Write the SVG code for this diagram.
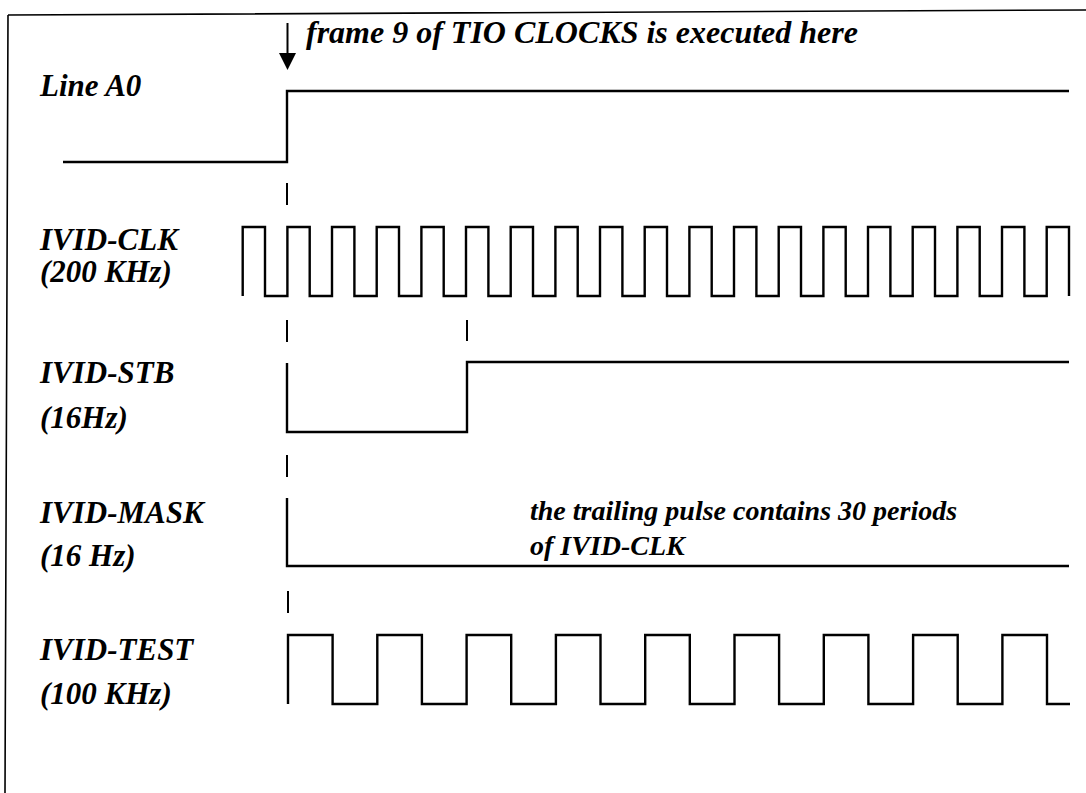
<svg xmlns="http://www.w3.org/2000/svg" width="1086" height="793" viewBox="0 0 1086 793">
<style>
.lbl{font-family:"Liberation Serif","Times New Roman",serif;font-weight:bold;font-style:italic;font-size:31px;fill:#000}
.title{font-family:"Liberation Serif","Times New Roman",serif;font-weight:bold;font-style:italic;font-size:32px;fill:#000}
.note{font-family:"Liberation Serif","Times New Roman",serif;font-weight:bold;font-style:italic;font-size:28px;fill:#000}
.wave{fill:none;stroke:#000;stroke-width:2.4;stroke-linejoin:miter}
.tick{stroke:#000;stroke-width:2}
.frame{fill:none;stroke:#000;stroke-width:1.6}
</style>
<rect width="1086" height="793" fill="#fff"/>
<g id="border">
<path class="frame" d="M8,15 L1086,10 M8,15 L5,793"/>
</g>
<g id="title">
<text class="title" x="306" y="43">frame 9 of TIO CLOCKS is executed here</text>
</g>
<g id="line-a0">
<text class="lbl" x="40" y="96">Line A0</text>
<path class="wave" d="M63,162 H287 V91 H1069"/>
</g>
<g id="ivid-clk">
<text class="lbl" x="40" y="250">IVID-CLK</text>
<text class="lbl" x="40" y="282">(200 KHz)</text>
<path class="wave" d="M242.7,296 V227 H265 V296 H287.4 V227 H309.7 V296 H332 V227 H354.4 V296 H376.7 V227 H399 V296 H421.4 V227 H443.7 V296 H466 V227 H488.4 V296 H510.7 V227 H533 V296 H555.4 V227 H577.7 V296 H600 V227 H622.4 V296 H644.7 V227 H667 V296 H689.4 V227 H711.7 V296 H734 V227 H756.4 V296 H778.7 V227 H801 V296 H823.4 V227 H845.7 V296 H868 V227 H890.4 V296 H912.7 V227 H935 V296 H957.4 V227 H979.7 V296 H1002 V227 H1024.4 V296 H1046.7 V227 H1069 V296"/>
</g>
<g id="ivid-stb">
<text class="lbl" x="40" y="383">IVID-STB</text>
<text class="lbl" x="40" y="428">(16Hz)</text>
<path class="wave" d="M287,363 V432 H467 V362 H1069"/>
</g>
<g id="ivid-mask">
<text class="lbl" x="40" y="523">IVID-MASK</text>
<text class="lbl" x="40" y="566">(16 Hz)</text>
<path class="wave" d="M287,498 V566 H1069"/>
<text class="note" x="530" y="520">the trailing pulse contains 30 periods</text>
<text class="note" x="530" y="555">of IVID-CLK</text>
</g>
<g id="ivid-test">
<text class="lbl" x="40" y="660">IVID-TEST</text>
<text class="lbl" x="40" y="704">(100 KHz)</text>
<path class="wave" d="M288,704 V635 H332.6 V704 H377.3 V635 H421.9 V704 H466.6 V635 H511.2 V704 H555.9 V635 H600.5 V704 H645.2 V635 H689.8 V704 H734.5 V635 H779.1 V704 H823.8 V635 H868.4 V704 H913.1 V635 H957.7 V704 H1002.4 V635 H1047 V704 H1070"/>
</g>
<g id="connectors">
<line class="tick" x1="287.5" y1="23" x2="287.5" y2="54"/>
<polygon points="279,53 296,53 287.5,70" fill="#000"/>
<line class="tick" x1="287" y1="183" x2="287" y2="205"/>
<line class="tick" x1="287" y1="320" x2="287" y2="342"/>
<line class="tick" x1="467" y1="320" x2="467" y2="341"/>
<line class="tick" x1="287" y1="455" x2="287" y2="477"/>
<line class="tick" x1="288" y1="591" x2="288" y2="613"/>
</g>
</svg>
